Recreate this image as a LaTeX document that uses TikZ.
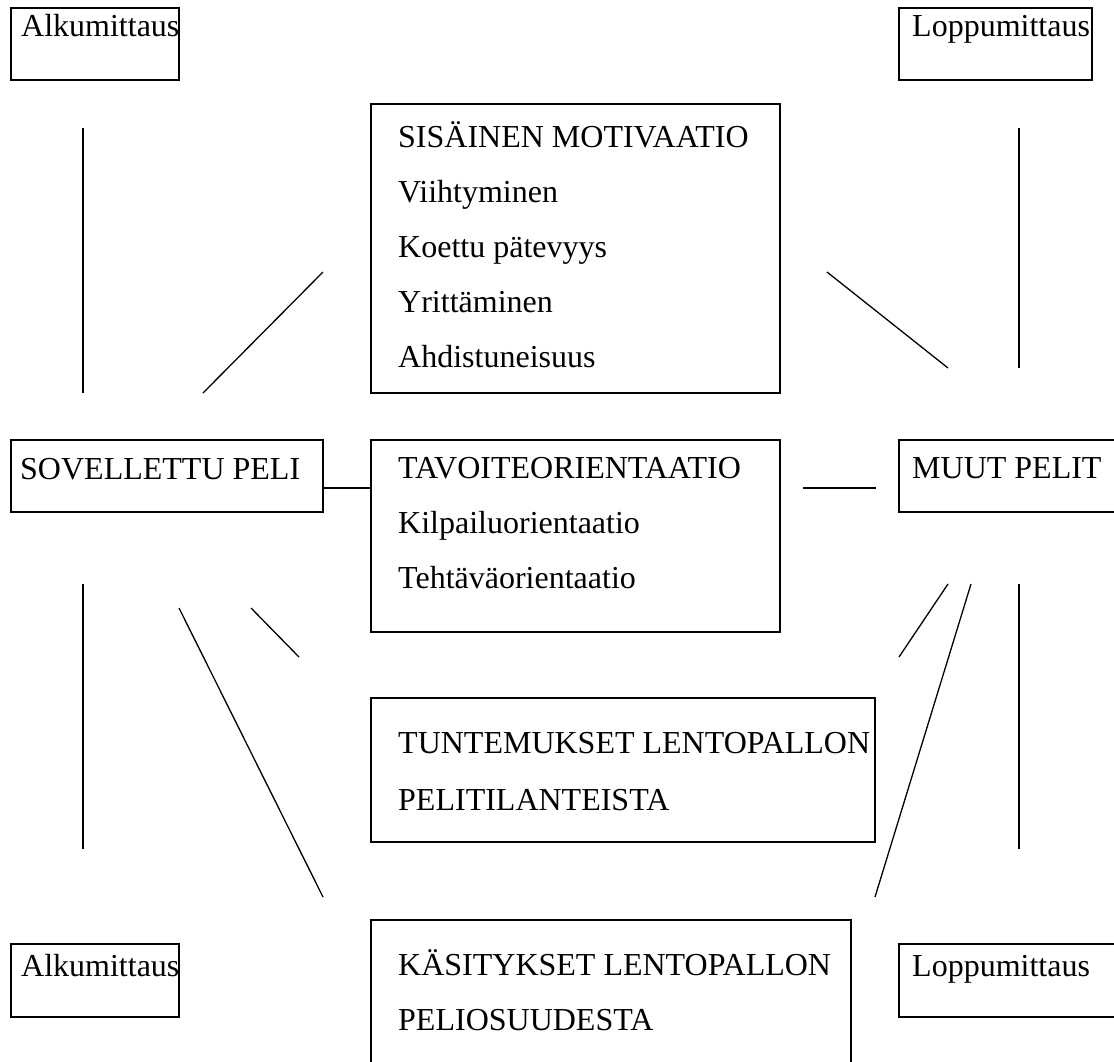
\documentclass[tikz,border=0pt]{standalone}
\usepackage{fontspec}
\setmainfont{Liberation Serif}
\tikzset{
  frame/.style={draw, line width=1.3pt, anchor=north west, inner sep=0pt, outer sep=0pt},
  lbl/.style={anchor=base west, inner sep=0pt, font=\fontsize{32}{55}\selectfont},
  link/.style={line width=1.3pt},
}
\begin{document}
\begin{tikzpicture}[x=1pt,y=-1pt]
    \useasboundingbox (0,0) rectangle (1114,1061);
    % boxes
    \node[frame, minimum width=168pt, minimum height=72pt] (alku1) at (11,8) {};
    \node[frame, minimum width=193pt, minimum height=72pt] (loppu1) at (899,8) {};
    \node[frame, minimum width=409pt, minimum height=289pt] (sis) at (371,104) {};
    \node[frame, minimum width=312pt, minimum height=72pt] (sov) at (11,440) {};
    \node[frame, minimum width=409pt, minimum height=192pt] (tav) at (371,440) {};
    \node[frame, minimum width=240pt, minimum height=72pt] (muut) at (899,440) {};
    \node[frame, minimum width=504pt, minimum height=144pt] (tunt) at (371,698) {};
    \node[frame, minimum width=168pt, minimum height=73pt] (alku2) at (11,944) {};
    \node[frame, minimum width=480pt, minimum height=160pt] (kas) at (371,920) {};
    \node[frame, minimum width=240pt, minimum height=73pt] (loppu2) at (899,944) {};
    % texts
    \node[lbl] (alku1-t) at ([xshift=10pt,yshift=-28pt]alku1.north west) {Alkumittaus};
    \node[lbl] (loppu1-t) at ([xshift=13pt,yshift=-28pt]loppu1.north west) {Loppumittaus};
    \node[lbl] (sov-t) at ([xshift=9pt,yshift=-39pt]sov.north west) {SOVELLETTU PELI};
    \node[lbl] (muut-t) at ([xshift=13pt,yshift=-38pt]muut.north west) {MUUT PELIT};
    \node[lbl] (alku2-t) at ([xshift=10pt,yshift=-32pt]alku2.north west) {Alkumittaus};
    \node[lbl] (loppu2-t) at ([xshift=13pt,yshift=-32pt]loppu2.north west) {Loppumittaus};
    \foreach \t [count=\i from 0] in {SISÄINEN MOTIVAATIO, Viihtyminen, Koettu pätevyys, Yrittäminen, Ahdistuneisuus}
        \node[lbl] (sis-\i) at ([xshift=27pt,yshift={-43pt-55pt*\i}]sis.north west) {\t};
    \foreach \t [count=\i from 0] in {TAVOITEORIENTAATIO, Kilpailuorientaatio, Tehtäväorientaatio}
        \node[lbl] (tav-\i) at ([xshift=27pt,yshift={-38pt-55pt*\i}]tav.north west) {\t};
    \foreach \t [count=\i from 0] in {TUNTEMUKSET LENTOPALLON, PELITILANTEISTA}
        \node[lbl] (tunt-\i) at ([xshift=27pt,yshift={-55pt-57pt*\i}]tunt.north west) {\t};
    \foreach \t [count=\i from 0] in {KÄSITYKSET LENTOPALLON, PELIOSUUDESTA}
        \node[lbl] (kas-\i) at ([xshift=27pt,yshift={-55pt-55pt*\i}]kas.north west) {\t};
    % free line ends
    \coordinate (a1) at (83,128);   \coordinate (a2) at (83,393);
    \coordinate (b1) at (203,393);  \coordinate (b2) at (323,272);
    \coordinate (c1) at (827,272);  \coordinate (c2) at (948,368);
    \coordinate (d1) at (1019,128); \coordinate (d2) at (1019,368);
    \coordinate (e1) at (803,488);  \coordinate (e2) at (876,488);
    \coordinate (f1) at (83,584);   \coordinate (f2) at (83,849);
    \coordinate (g1) at (179,608);  \coordinate (g2) at (323,897);
    \coordinate (h1) at (251,608);  \coordinate (h2) at (299,657);
    \coordinate (i1) at (948,584);  \coordinate (i2) at (899,657);
    \coordinate (j1) at (971,584);  \coordinate (j2) at (875,897);
    \coordinate (k1) at (1019,584); \coordinate (k2) at (1019,849);
    % lines
    \draw[link] ([yshift=-12pt]sov.east) -- ([yshift=-12pt]sov.east -| tav.west);
    \foreach \p in {a,b,c,d,e,f,g,h,i,j,k}
        \draw[link] (\p1) -- (\p2);
\end{tikzpicture}
\end{document}
